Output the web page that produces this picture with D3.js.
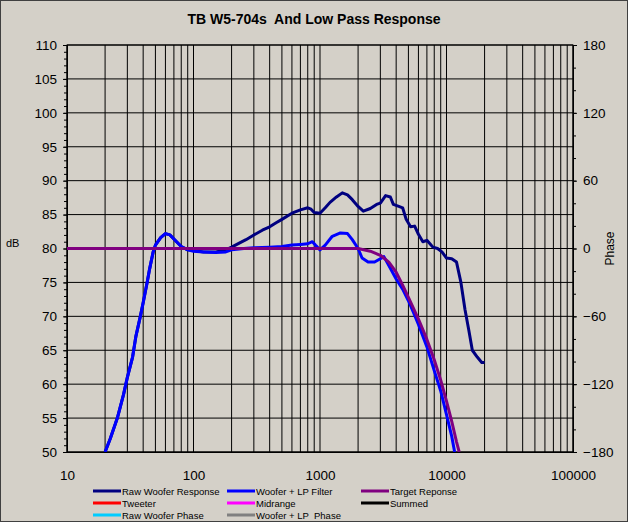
<!DOCTYPE html>
<html><head><meta charset="utf-8">
<script src="https://cdn.jsdelivr.net/npm/d3@7"></script>
<style>body{margin:0;background:#d4d0c8}text{font-family:"Liberation Sans",Arial,sans-serif;white-space:pre}</style>
</head><body>
<script>
var w = 628, h = 522;
var title = "TB W5-704s  And Low Pass Response";

// Raw woofer response [Hz, dB]
var rawWoofer = [[20,50],[22,52],[25,55],[28,58.5],[30,61],[33,64],[35,67],[38,70],[40,72],[43,75],[45,77],[48,79.5],[50,80.5],[55,81.6],[60,82.2],[65,82],[70,81.4],[80,80.3],[90,79.8],[100,79.7],[120,79.5],[150,79.5],[180,79.8],[200,80.2],[230,80.8],[260,81.3],[300,82],[350,82.7],[400,83.2],[450,83.8],[500,84.3],[600,85.2],[700,85.7],[800,86],[850,85.8],[900,85.3],[1000,85.2],[1100,86],[1200,86.8],[1350,87.6],[1500,88.2],[1650,87.9],[1800,87.2],[2000,86.2],[2200,85.5],[2500,85.9],[2800,86.5],[3000,86.7],[3300,87.8],[3600,87.6],[3800,86.5],[4200,86.2],[4500,86],[4800,84.3],[5200,83.2],[5600,83.3],[6000,82.1],[6500,81],[7000,81.2],[7400,80.7],[7800,80.2],[8500,80],[9200,79.5],[10000,78.6],[11000,78.5],[12000,78],[13000,75],[14000,71],[15000,68],[16000,65],[17500,64],[19000,63.2],[20000,63.2]];
// Woofer + LP filter
var wooferLP = [[20,50],[22,52],[25,55],[28,58.5],[30,61],[33,64],[35,67],[38,70],[40,72],[43,75],[45,77],[48,79.5],[50,80.5],[55,81.6],[60,82.2],[65,82],[70,81.4],[80,80.3],[90,79.8],[100,79.6],[120,79.5],[150,79.4],[180,79.5],[200,79.8],[250,80],[300,80.1],[400,80.2],[500,80.3],[600,80.5],[700,80.6],[800,80.7],[870,81],[920,80.5],[1000,79.8],[1100,80.5],[1250,81.8],[1450,82.3],[1650,82.2],[1800,81.3],[2000,80],[2150,78.6],[2400,78],[2700,78],[3000,78.5],[3200,78.8],[3500,77.5],[4000,75.5],[4500,74],[5000,72.3],[5500,70.5],[6000,68.8],[7000,65.5],[8000,62],[9000,59],[10000,55.5],[11000,52.3],[11600,50]];
// Target response
var target = [[10,80],[100,80],[1000,80],[2000,80],[2500,79.6],[3000,79],[3500,78],[4000,76.5],[4500,74.6],[5000,72.8],[6000,69.6],[7000,66.6],[8000,63.6],[9000,60.6],[10000,57.5],[11000,54.5],[12000,51.5],[12600,50]];

var dbTicks = d3.range(50, 111, 5);
var phaseTicks = d3.range(-180, 181, 60);
var freqLabels = [10, 100, 1000, 10000, 100000];
var legendItems = [
  ["Raw Woofer Response", "#000080"], ["Woofer + LP Filter", "#0000ff"], ["Target Reponse", "#800080"],
  ["Tweeter", "#ff0000"], ["Midrange", "#ff00ff"], ["Summed", "#000000"],
  ["Raw Woofer Phase", "#00ccff"], ["Woofer + LP  Phase", "#808080"]
];

var m = {l: 67, r: 55, t: 45, b: 70};
var x = d3.scaleLog().domain([10, 100000]).range([m.l, w - m.r]);
var y = d3.scaleLinear().domain([50, 110]).range([h - m.b, m.t]);
var yp = d3.scaleLinear().domain([-180, 180]).range([h - m.b, m.t]);

var svg = d3.select("body").append("svg").attr("width", w).attr("height", h);
svg.append("rect").attr("x", 0.5).attr("y", 0.5).attr("width", w - 1).attr("height", h - 1)
   .attr("fill", "#d4d0c8").attr("stroke", "#404040");

svg.append("text").attr("x", w / 2).attr("y", 24).attr("text-anchor", "middle")
   .attr("font-size", 14).attr("font-weight", "bold").text(title);

// vertical grid
var fgrid = [];
for (var d = 10; d < 100000; d *= 10) for (var k = 1; k < 10; k++) fgrid.push(d * k);
fgrid.push(100000);
svg.append("g").selectAll("line").data(fgrid).join("line")
   .attr("x1", d => x(d)).attr("x2", d => x(d)).attr("y1", m.t).attr("y2", h - m.b)
   .attr("stroke", "#000").attr("stroke-width", 1);
// horizontal grid
svg.append("g").selectAll("line").data(dbTicks).join("line")
   .attr("x1", m.l).attr("x2", w - m.r).attr("y1", d => y(d)).attr("y2", d => y(d))
   .attr("stroke", "#000").attr("stroke-width", 1);

// axes
svg.append("g").attr("transform", "translate(" + m.l + ",0)")
   .call(d3.axisLeft(y).tickValues(dbTicks).tickSize(4).tickPadding(6));
svg.append("g").attr("transform", "translate(" + m.l + ",0)")
   .call(d3.axisLeft(y).tickValues(d3.range(50, 111, 1)).tickSize(3).tickFormat(""));
svg.append("g").attr("transform", "translate(" + (w - m.r) + ",0)")
   .call(d3.axisRight(yp).tickValues(phaseTicks).tickSize(4).tickPadding(6));
svg.append("g").attr("transform", "translate(" + (w - m.r) + ",0)")
   .call(d3.axisRight(yp).tickValues(d3.range(-180, 181, 20)).tickSize(3).tickFormat(""));
svg.append("g").attr("transform", "translate(0," + (h - m.b) + ")")
   .call(d3.axisBottom(x).tickValues(freqLabels).tickSize(0).tickPadding(18).tickFormat(d3.format("d")));
svg.selectAll(".domain").attr("stroke", "#000");
svg.selectAll(".tick text").attr("font-size", 13.5).attr("fill", "#000")
   .attr("font-family", "Liberation Sans, Arial, sans-serif");
svg.append("rect").attr("x", m.l).attr("y", m.t).attr("width", w - m.r - m.l).attr("height", h - m.b - m.t)
   .attr("fill", "none").attr("stroke", "#000");

svg.append("text").attr("x", 6).attr("y", y(80) - 2).attr("font-size", 11).text("dB");
svg.append("text").attr("transform", "translate(" + (w - 14) + "," + y(80) + ") rotate(-90)")
   .attr("text-anchor", "middle").attr("font-size", 12).text("Phase");

// curves
var line = d3.line().x(d => x(d[0])).y(d => y(d[1]));
svg.append("clipPath").attr("id", "c").append("rect")
   .attr("x", m.l).attr("y", m.t).attr("width", w - m.r - m.l).attr("height", h - m.b - m.t);
var curves = svg.append("g").attr("clip-path", "url(#c)");
[[rawWoofer, "#000080"], [wooferLP, "#0000ff"], [target, "#800080"]].forEach(function(s) {
  curves.append("path").datum(s[0]).attr("d", line).attr("fill", "none")
        .attr("stroke", s[1]).attr("stroke-width", 3).attr("stroke-linejoin", "round");
});

// legend
var lx = [93, 227, 361], ly = [491, 503, 515];
legendItems.forEach(function(it, i) {
  var g = svg.append("g").attr("transform", "translate(" + lx[i % 3] + "," + ly[Math.floor(i / 3)] + ")");
  g.append("line").attr("x1", 0).attr("x2", 28).attr("y1", 0).attr("y2", 0)
   .attr("stroke", it[1]).attr("stroke-width", 3);
  g.append("text").attr("x", 29).attr("y", 4).attr("font-size", 9.5).text(it[0]);
});
</script>
</body></html>
